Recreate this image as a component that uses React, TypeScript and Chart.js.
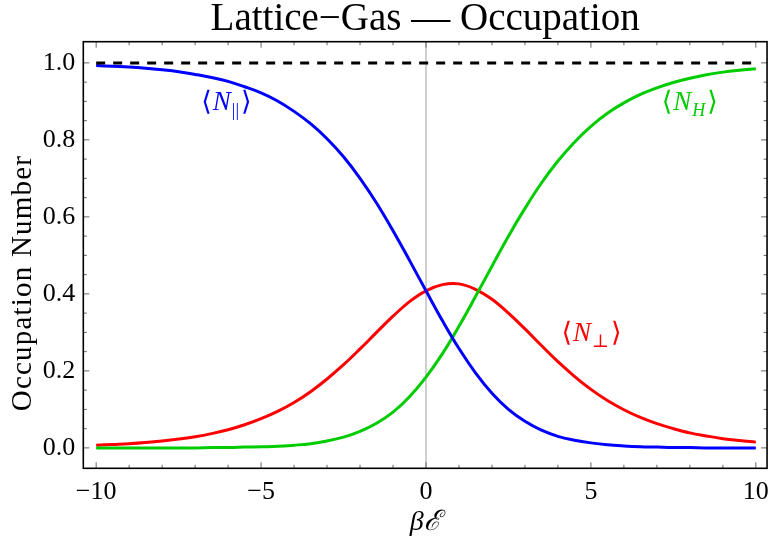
import { useEffect, useRef } from "react";
import { Chart, registerables } from "chart.js";

Chart.register(...registerables);

const xValues = [
  -10, -9.5, -9, -8.5, -8, -7.5, -7, -6.5, -6, -5.5, -5, -4.5, -4, -3.5, -3, -2.5, -2, -1.5, -1, -0.5,
  0, 0.5, 1, 1.5, 2, 2.5, 3, 3.5, 4, 4.5, 5, 5.5, 6, 6.5, 7, 7.5, 8, 8.5, 9, 9.5, 10,
];
const nParallel = [
  0.993, 0.991, 0.989, 0.986, 0.982, 0.977, 0.970, 0.962, 0.952, 0.938, 0.922, 0.901, 0.874, 0.842, 0.803, 0.756, 0.700, 0.636, 0.564, 0.487,
  0.408, 0.330, 0.258, 0.195, 0.142, 0.100, 0.069, 0.046, 0.030, 0.020, 0.013, 0.008, 0.005, 0.003, 0.002, 0.001, 0.001, 0.000, 0.000, 0.000, 0.000,
];
const nPerp = [
  0.007, 0.009, 0.011, 0.014, 0.018, 0.023, 0.029, 0.037, 0.047, 0.060, 0.076, 0.095, 0.118, 0.146, 0.179, 0.216, 0.257, 0.300, 0.342, 0.380,
  0.408, 0.424, 0.426, 0.412, 0.386, 0.350, 0.309, 0.266, 0.224, 0.186, 0.152, 0.123, 0.099, 0.079, 0.063, 0.050, 0.039, 0.031, 0.024, 0.019, 0.015,
];
const nH = [
  0.000, 0.000, 0.000, 0.000, 0.000, 0.000, 0.000, 0.001, 0.001, 0.002, 0.003, 0.004, 0.007, 0.011, 0.018, 0.028, 0.043, 0.064, 0.093, 0.133,
  0.184, 0.245, 0.316, 0.393, 0.472, 0.550, 0.622, 0.688, 0.745, 0.794, 0.835, 0.869, 0.896, 0.918, 0.935, 0.949, 0.960, 0.969, 0.976, 0.981, 0.985,
];
const totalX = [-10, 10];
const totalY = [1.0, 1.0];

const xTickValues = [-10, -5, 0, 5, 10];
const yTickValues = [0, 0.2, 0.4, 0.6, 0.8, 1.0];
const xMinorTicks = [-10, -9, -8, -7, -6, -5, -4, -3, -2, -1, 0, 1, 2, 3, 4, 5, 6, 7, 8, 9, 10];
const yMinorTicks = [
  0, 0.05, 0.1, 0.15, 0.2, 0.25, 0.3, 0.35, 0.4, 0.45, 0.5, 0.55, 0.6, 0.65, 0.7, 0.75, 0.8, 0.85, 0.9, 0.95, 1.0,
];

const curveLabels = [
  { sub: "||", subItalic: false, x: -6.05, y: 0.9, color: "#0000ff" },
  { sub: "H", subItalic: true, x: 8.0, y: 0.9, color: "#00cc00" },
  { sub: "\u22a5", subItalic: false, x: 5.02, y: 0.301, color: "#ff0000" },
];

const Y_TITLE = "Occupation Number";

const SERIF = "'Liberation Serif', 'Times New Roman', 'DejaVu Serif', serif";
const BLUE = "#0000ff";
const RED = "#ff0000";
const GREEN = "#00cc00";

function pts(xs: number[], ys: number[]) {
  return xs.map((x, i) => ({ x, y: ys[i] }));
}

function drawMathLabel(
  ctx: CanvasRenderingContext2D,
  cx: number,
  cy: number,
  sub: string,
  subItalic: boolean,
  color: string,
  size: number
) {
  const up = `${size}px ${SERIF}`;
  const it = `italic ${size}px ${SERIF}`;
  const subSize = Math.round(size * 0.68);
  const subFont = `${subItalic ? "italic " : ""}${subSize}px ${SERIF}`;
  const parts = [
    { t: "\u27e8", f: up, dy: 0, gap: 1 },
    { t: "N", f: it, dy: 0, gap: 1 },
    { t: sub, f: subFont, dy: size * 0.22, gap: 2 },
    { t: "\u27e9", f: up, dy: 0, gap: 0 },
  ];
  let w = 0;
  const widths: number[] = [];
  for (const p of parts) {
    ctx.font = p.f;
    const m = ctx.measureText(p.t).width;
    widths.push(m);
    w += m + p.gap;
  }
  let x = cx - w / 2;
  const base = cy + size * 0.33;
  ctx.fillStyle = color;
  ctx.textBaseline = "alphabetic";
  ctx.textAlign = "left";
  parts.forEach((p, i) => {
    ctx.font = p.f;
    ctx.fillText(p.t, x, base + p.dy);
    x += widths[i] + p.gap;
  });
}

const framePlugin = {
  id: "mmaFrame",
  beforeDatasetsDraw(chart: any) {
    const { ctx, chartArea, scales } = chart;
    const px = scales.x.getPixelForValue(0);
    ctx.save();
    ctx.strokeStyle = "#a0a0a0";
    ctx.lineWidth = 1;
    ctx.beginPath();
    ctx.moveTo(px, chartArea.top);
    ctx.lineTo(px, chartArea.bottom);
    ctx.stroke();
    ctx.restore();
  },
  afterDatasetsDraw(chart: any) {
    const { ctx, chartArea, scales } = chart;
    const { left, right, top, bottom } = chartArea;
    ctx.save();
    ctx.strokeStyle = "#666";
    ctx.lineWidth = 1;
    ctx.beginPath();
    for (const v of xMinorTicks) {
      const len = xTickValues.includes(v) ? 6 : 3.5;
      const p = scales.x.getPixelForValue(v);
      ctx.moveTo(p, bottom);
      ctx.lineTo(p, bottom - len);
      ctx.moveTo(p, top);
      ctx.lineTo(p, top + len);
    }
    for (const v of yMinorTicks) {
      const isMajor = yTickValues.some((t) => Math.abs(t - v) < 1e-9);
      const len = isMajor ? 6 : 3.5;
      const p = scales.y.getPixelForValue(v);
      ctx.moveTo(left, p);
      ctx.lineTo(left + len, p);
      ctx.moveTo(right, p);
      ctx.lineTo(right - len, p);
    }
    ctx.stroke();
    ctx.strokeStyle = "#000";
    ctx.lineWidth = 1.6;
    ctx.strokeRect(left, top, right - left, bottom - top);
    for (const l of curveLabels) {
      drawMathLabel(
        ctx,
        scales.x.getPixelForValue(l.x),
        scales.y.getPixelForValue(l.y),
        l.sub,
        l.subItalic,
        l.color,
        27
      );
    }
    // y-axis frame label (rotated)
    ctx.save();
    ctx.translate(23, 283);
    ctx.rotate(-Math.PI / 2);
    ctx.font = `29px ${SERIF}`;
    try {
      (ctx as any).letterSpacing = "1.2px";
    } catch (e) {}
    ctx.fillStyle = "#000";
    ctx.textAlign = "center";
    ctx.textBaseline = "middle";
    ctx.fillText(Y_TITLE, 0, 0);
    ctx.restore();
    ctx.restore();
  },
};

export default function App() {
  const canvasRef = useRef<HTMLCanvasElement | null>(null);

  useEffect(() => {
    if (!canvasRef.current) return;
    const chart = new Chart(canvasRef.current, {
      type: "line",
      data: {
        datasets: [
          {
            label: "Total",
            data: pts(totalX, totalY),
            borderColor: "#000",
            borderWidth: 3,
            borderDash: [9, 8],
            pointRadius: 0,
            fill: false,
          },
          {
            label: "N_par",
            data: pts(xValues, nParallel),
            borderColor: BLUE,
            borderWidth: 3,
            pointRadius: 0,
            tension: 0.4,
            fill: false,
          },
          {
            label: "N_H",
            data: pts(xValues, nH),
            borderColor: GREEN,
            borderWidth: 3,
            pointRadius: 0,
            tension: 0.4,
            fill: false,
          },
          {
            label: "N_perp",
            data: pts(xValues, nPerp),
            borderColor: RED,
            borderWidth: 3,
            pointRadius: 0,
            tension: 0.4,
            fill: false,
          },
        ],
      },
      options: {
        animation: false,
        responsive: true,
        maintainAspectRatio: false,
        layout: { padding: { left: 0, right: 3, top: 0, bottom: 0 } },
        plugins: {
          legend: { display: false },
          tooltip: { enabled: false },
          title: {
            display: true,
            fullSize: false,
            text: "Lattice\u2212Gas \u2014 Occupation",
            color: "#000",
            font: { family: SERIF, size: 39, weight: "normal", lineHeight: 1 },
            padding: { top: 0, bottom: 2.7 },
          },
        },
        scales: {
          x: {
            type: "linear",
            min: -10.39,
            max: 10.34,
            grid: { display: false, drawTicks: false },
            border: { display: false },
            afterBuildTicks: (s: any) => {
              s.ticks = xTickValues.map((v) => ({ value: v }));
            },
            afterFit: (s: any) => {
              s.height = 79.7;
            },
            ticks: {
              color: "#000",
              font: { family: SERIF, size: 26 },
              padding: 8,
              maxRotation: 0,
              autoSkip: false,
              callback: (v: any) => (Number(v) < 0 ? "\u2212" + Math.abs(Number(v)) : String(v)),
            },
            title: {
              display: true,
              text: "\u03b2\u2130",
              color: "#000",
              font: { family: SERIF, size: 28, style: "italic" },
              padding: { top: 0, bottom: 9 },
            },
          },
          y: {
            type: "linear",
            min: -0.053,
            max: 1.055,
            grid: { display: false, drawTicks: false },
            border: { display: false },
            afterBuildTicks: (s: any) => {
              s.ticks = yTickValues.map((v) => ({ value: v }));
            },
            afterFit: (s: any) => {
              s.width = 83.3;
            },
            ticks: {
              color: "#000",
              font: { family: SERIF, size: 26 },
              padding: 8,
              autoSkip: false,
              callback: (v: any) => Number(v).toFixed(1),
            },
            title: { display: false },
          },
        },
      },
      plugins: [framePlugin],
    } as any);
    return () => chart.destroy();
  }, []);

  return (
    <div style={{ position: "fixed", left: 0, top: 0, width: 777, height: 548, background: "#fff" }}>
      <canvas ref={canvasRef} />
    </div>
  );
}
